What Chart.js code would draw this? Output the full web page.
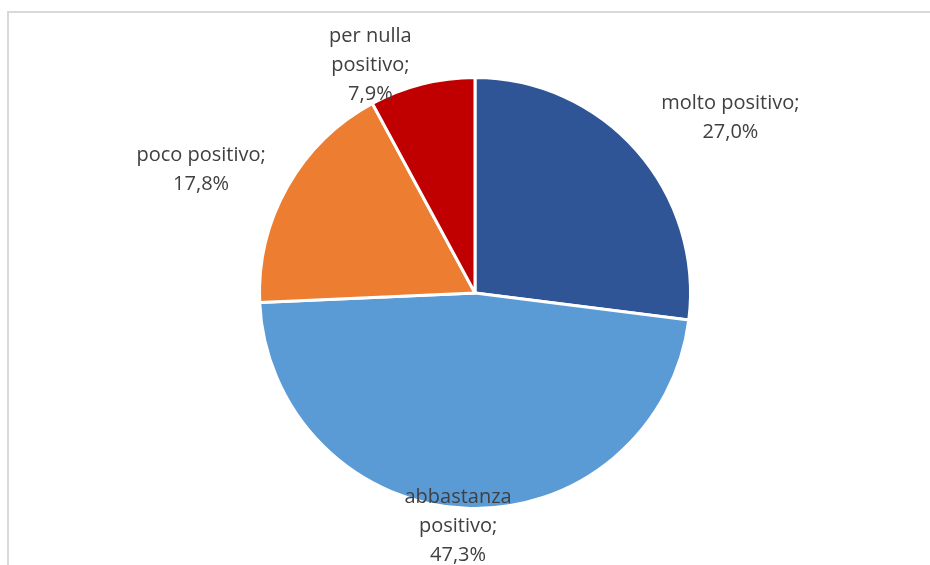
<!DOCTYPE html>
<html>
<head>
<meta charset="utf-8">
<script src="https://cdn.jsdelivr.net/npm/chart.js@4"></script>
<style>
  html, body { margin: 0; padding: 0; background: #ffffff; }
  #wrap { position: relative; width: 930px; height: 565px; }
</style>
</head>
<body>
<div id="wrap"><canvas id="pie" width="930" height="565"></canvas></div>
<script>
// Giudizio espresso dagli intervistati (valori percentuali)
const categories = ['molto positivo', 'abbastanza positivo', 'poco positivo', 'per nulla positivo'];
const percentages = [27.0, 47.3, 17.8, 7.9];
const sliceColors = ['#2F5597', '#5B9BD5', '#ED7D31', '#C00000'];
// Label lines as they wrap in the chart
const labelLines = [
  ['molto positivo;'],
  ['abbastanza', 'positivo;'],
  ['poco positivo;'],
  ['per nulla', 'positivo;']
];

const fmt = v => v.toFixed(1).replace('.', ',') + '%';

// Where each label sits: angle (deg, 0 = right, clockwise) and distance as a multiple of the radius
const labelPlacement = [
  { angle: -34.9, dist: 1.445 },
  { angle: 94.2, dist: 1.073 },
  { angle: 204.8, dist: 1.40 },
  { angle: 245.6, dist: 1.175 }
];

const framePlugin = {
  id: 'frame',
  beforeDraw(chart) {
    const ctx = chart.ctx;
    ctx.save();
    ctx.strokeStyle = '#d9d9d9';
    ctx.lineWidth = 2;
    ctx.beginPath();
    ctx.moveTo(8, 600);
    ctx.lineTo(8, 12);
    ctx.lineTo(960, 12);
    ctx.stroke();
    ctx.restore();
  }
};

const sliceLabels = {
  id: 'sliceLabels',
  afterDatasetsDraw(chart) {
    const ctx = chart.ctx;
    const meta = chart.getDatasetMeta(0);
    ctx.save();
    ctx.fillStyle = '#404040';
    ctx.font = '20px "Open Sans", Lato, sans-serif';
    ctx.textAlign = 'center';
    ctx.textBaseline = 'middle';
    const lh = 29;
    meta.data.forEach((arc, i) => {
      const p = labelPlacement[i];
      const a = p.angle * Math.PI / 180;
      const cx = arc.x + Math.cos(a) * arc.outerRadius * p.dist;
      const cy = arc.y + Math.sin(a) * arc.outerRadius * p.dist + 3;
      const lines = labelLines[i].concat([fmt(chart.data.datasets[0].data[i])]);
      const y0 = cy - (lines.length - 1) * lh / 2;
      lines.forEach((t, k) => ctx.fillText(t, cx, y0 + k * lh));
    });
    ctx.restore();
  }
};

new Chart(document.getElementById('pie'), {
  type: 'pie',
  data: {
    labels: categories,
    datasets: [{
      data: percentages,
      backgroundColor: sliceColors,
      borderColor: '#ffffff',
      borderWidth: 3
    }]
  },
  options: {
    responsive: false,
    animation: false,
    layout: { padding: { top: 76, bottom: 55, left: 100, right: 80 } },
    plugins: {
      legend: { display: false },
      tooltip: { enabled: false },
      title: { display: false }
    }
  },
  plugins: [framePlugin, sliceLabels]
});
</script>
</body>
</html>
